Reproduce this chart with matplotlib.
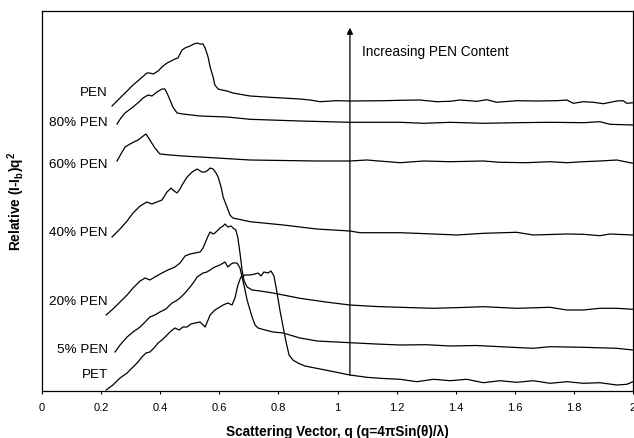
import matplotlib
matplotlib.use("Agg")
import matplotlib.pyplot as plt

plt.rcParams["font.family"] = ["Liberation Sans", "DejaVu Sans"]
plt.rcParams["mathtext.fontset"] = "custom"
plt.rcParams["mathtext.rm"] = "Liberation Sans"
plt.rcParams["mathtext.bf"] = "Liberation Sans:bold"

# scattering vector q and relative (I-Ib)q^2 (arbitrary units, curves offset)
pet_q = [0.217, 0.240, 0.264, 0.288, 0.308, 0.325, 0.338, 0.352, 0.365, 0.379, 0.393,
         0.406, 0.423, 0.437, 0.450, 0.464, 0.477, 0.491, 0.504, 0.518, 0.535, 0.545,
         0.552, 0.562, 0.569, 0.585, 0.602, 0.613, 0.629, 0.643, 0.653, 0.663, 0.673,
         0.687, 0.704, 0.721, 0.731, 0.741, 0.751, 0.765, 0.775, 0.785, 0.795, 0.805,
         0.816, 0.826, 0.836, 0.849, 0.866, 0.890, 0.924, 0.975, 1.042, 1.099, 1.155,
         1.212, 1.268, 1.325, 1.381, 1.437, 1.494, 1.550, 1.606, 1.663, 1.719, 1.776,
         1.832, 1.888, 1.945, 1.979, 2.0]
pet_i = [1, 6, 13, 18, 24, 29, 34, 38, 39, 43, 48,
         51, 56, 60, 63, 61, 64, 64, 67, 68, 69, 66,
         64, 71, 76, 81, 84, 86, 88, 86, 93, 106, 114,
         116, 116, 117, 118, 115, 119, 118, 120, 115, 99, 81,
         64, 49, 36, 31, 28, 25, 23, 20, 16, 13.7, 12.5,
         11.7, 9.3, 11.7, 10.3, 11.7, 8.3, 10.3, 8.7, 10.3, 7.7, 9.3,
         7.7, 8.3, 6, 6.7, 9.3]

pen5_q = [0.247, 0.264, 0.288, 0.308, 0.332, 0.349, 0.365, 0.382, 0.399, 0.419, 0.440,
          0.453, 0.467, 0.484, 0.501, 0.514, 0.525, 0.535, 0.545, 0.558, 0.569, 0.579,
          0.585, 0.602, 0.619, 0.629, 0.640, 0.646, 0.660, 0.670, 0.677, 0.687, 0.694,
          0.704, 0.711, 0.721, 0.731, 0.755, 0.782, 0.816, 0.873, 0.931, 1.042, 1.130,
          1.212, 1.300, 1.381, 1.470, 1.550, 1.663, 1.719, 1.832, 1.945, 2.0]
pen5_i = [39, 46, 54, 59, 64, 69, 74, 76, 79, 82, 88,
          90, 93, 98, 104, 109, 114, 116, 118, 119, 121, 123,
          124, 126, 129, 124, 127, 128, 128, 123, 114, 101, 91,
          81, 74, 66, 63, 61, 59, 58, 53, 50, 48.3, 47,
          46, 46.3, 45, 45.5, 44.3, 42.7, 44.3, 43.7, 42.7, 41]

pen20_q = [0.217, 0.240, 0.264, 0.288, 0.308, 0.332, 0.349, 0.365, 0.382, 0.406, 0.426,
           0.450, 0.467, 0.477, 0.484, 0.501, 0.518, 0.535, 0.545, 0.552, 0.562, 0.569,
           0.579, 0.585, 0.596, 0.602, 0.613, 0.619, 0.629, 0.640, 0.646, 0.656, 0.663,
           0.670, 0.677, 0.684, 0.694, 0.711, 0.738, 0.782, 0.873, 0.960, 1.042, 1.130,
           1.212, 1.325, 1.420, 1.494, 1.606, 1.719, 1.776, 1.832, 1.888, 1.945, 2.0]
pen20_i = [76, 82, 89, 96, 103, 110, 113, 111, 114, 118, 121,
           124, 128, 132, 135, 137, 138, 139, 143, 148, 155, 159,
           157, 158, 161, 163, 165, 167, 164, 165, 163, 161, 153,
           138, 121, 110, 104, 101, 100, 98, 92.7, 89, 86, 84.5,
           83.7, 82.7, 83.5, 84.3, 82.7, 83.7, 81, 81, 82.7, 82.7, 81.7]

pen40_q = [0.237, 0.264, 0.288, 0.308, 0.332, 0.355, 0.372, 0.389, 0.406, 0.423, 0.437,
           0.443, 0.457, 0.467, 0.474, 0.491, 0.508, 0.525, 0.541, 0.552, 0.562, 0.569,
           0.579, 0.589, 0.596, 0.606, 0.613, 0.626, 0.636, 0.646, 0.670, 0.704, 0.817,
           0.930, 1.042, 1.076, 1.212, 1.325, 1.404, 1.494, 1.606, 1.663, 1.776, 1.832,
           1.888, 1.922, 2.0]
pen40_i = [154, 162, 170, 178, 185, 189, 187, 189, 191, 199, 203,
           201, 198, 202, 206, 214, 219, 222, 219, 219, 221, 223,
           222, 218, 214, 204, 194, 184, 176, 173, 171.5, 169.3, 166,
           162, 160, 158.3, 158.3, 157, 156, 157.7, 158.7, 156, 157, 156.7,
           155.3, 157, 156]

pen60_q = [0.254, 0.267, 0.281, 0.298, 0.311, 0.325, 0.338, 0.352, 0.365, 0.382, 0.399,
           0.433, 0.477, 0.592, 0.704, 0.930, 1.042, 1.099, 1.212, 1.291, 1.381, 1.494,
           1.550, 1.640, 1.719, 1.776, 1.832, 1.888, 1.945, 2.0]
pen60_i = [230, 237, 244, 247, 249, 251, 254, 257, 251, 243, 237,
           236, 235, 233, 231, 230, 230, 231, 228.3, 230, 229.3, 230,
           228.7, 228.3, 229.3, 228.3, 229.3, 230, 231, 227.7]

pen80_q = [0.254, 0.267, 0.281, 0.308, 0.332, 0.342, 0.359, 0.372, 0.389, 0.406, 0.416,
           0.426, 0.443, 0.457, 0.477, 0.535, 0.626, 0.704, 0.873, 1.042, 1.212, 1.291,
           1.381, 1.494, 1.606, 1.719, 1.832, 1.888, 1.922, 2.0]
pen80_i = [267, 273, 278, 284, 290, 293, 296, 295, 299, 302, 302,
           296, 284, 278, 277, 275, 274, 271.7, 270, 268.7, 268.7, 267.7,
           268.7, 267.7, 268.3, 268.7, 268.3, 269.3, 266.7, 266]

pen_q = [0.237, 0.264, 0.288, 0.308, 0.332, 0.355, 0.365, 0.376, 0.393, 0.406, 0.423,
         0.437, 0.450, 0.460, 0.474, 0.484, 0.501, 0.514, 0.525, 0.535, 0.545, 0.552,
         0.562, 0.569, 0.579, 0.585, 0.596, 0.609, 0.626, 0.646, 0.704, 0.772, 0.873,
         0.907, 0.941, 0.997, 1.042, 1.155, 1.212, 1.279, 1.336, 1.381, 1.415, 1.471,
         1.505, 1.539, 1.606, 1.674, 1.742, 1.776, 1.798, 1.832, 1.866, 1.900, 1.945,
         1.967, 1.979, 2.0]
pen_i = [285, 293, 300, 306, 312, 318, 318, 317, 320, 324, 328,
         330, 332, 333, 341, 343, 345, 347, 348, 347, 347, 343,
         334, 324, 314, 306, 302, 301, 300, 298, 295, 293.7, 292,
         291, 289.3, 290.3, 290, 290.3, 290.7, 291, 289.3, 289.7, 291, 289.7,
         291.3, 288.7, 290.3, 290, 290.3, 291, 287.7, 289.3, 288.7, 287.3, 290,
         290.3, 287.7, 288.3]

series = [(pet_q, pet_i), (pen5_q, pen5_i), (pen20_q, pen20_i), (pen40_q, pen40_i),
          (pen60_q, pen60_i), (pen80_q, pen80_i), (pen_q, pen_i)]
labels = ["PET", "5% PEN", "20% PEN", "40% PEN", "60% PEN", "80% PEN", "PEN"]
label_y = [16, 41, 89, 158, 226, 268, 298]

fig = plt.figure(figsize=(6.34, 4.38), dpi=100)
ax = fig.add_axes([42 / 634, 47 / 438, 591 / 634, 380 / 438])

for (q, i) in series:
    ax.plot(q, i, color="black", lw=0.9)

for lab, y in zip(labels, label_y):
    ax.text(0.223, y, lab, ha="right", va="center", fontsize=9.7)

ax.annotate("", xy=(1.042, 366), xytext=(1.042, 13),
            arrowprops=dict(arrowstyle="-|>", color="black", lw=0.9,
                            mutation_scale=9))
ax.text(1.083, 339, "Increasing PEN Content", ha="left", va="center", fontsize=9.8)

ax.set_xlim(0, 2)
ax.set_ylim(0, 380)
ax.set_xticks([0, 0.2, 0.4, 0.6, 0.8, 1.0, 1.2, 1.4, 1.6, 1.8, 2.0])
ax.set_xticklabels(["0", "0.2", "0.4", "0.6", "0.8", "1", "1.2", "1.4", "1.6", "1.8", "2"])
ax.tick_params(axis="x", direction="out", length=2.5, width=0.8, pad=6, labelsize=8)
ax.set_yticks([])
for s in ax.spines.values():
    s.set_linewidth(0.9)

ax.set_xlabel("Scattering Vector, q (q=4\u03c0Sin(\u03b8)/\u03bb)", fontsize=9.8,
              fontweight="bold", labelpad=9)
ax.set_ylabel(r"Relative (I-I$_\mathbf{b}$)q$^\mathbf{2}$", fontsize=9.8,
              fontweight="bold")
ax.yaxis.set_label_coords(-0.026, 0.5)

fig.savefig("out.png", dpi=100)
